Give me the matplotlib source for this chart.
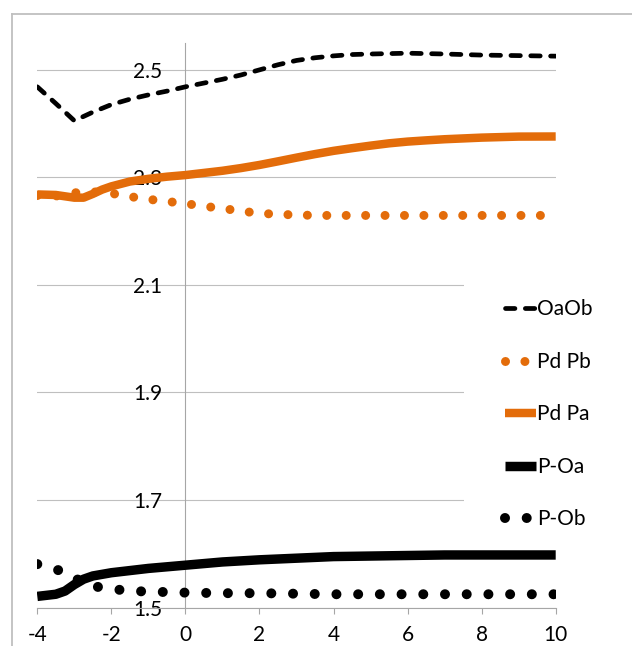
import matplotlib
matplotlib.use("Agg")
import matplotlib.pyplot as plt
from matplotlib.lines import Line2D
from matplotlib.patches import Rectangle

plt.rcParams['font.family'] = ['Lato', 'DejaVu Sans']

# ---- data ----
x_oaob = [-4, -3.5, -3, -2.5, -2, -1.5, -1, -0.5, 0, 0.5, 1, 1.5, 2, 2.5, 3, 3.5, 4, 4.5, 5, 6, 7, 8, 9, 10]
y_oaob = [2.468, 2.437, 2.405, 2.421, 2.435, 2.445, 2.453, 2.460, 2.468, 2.475, 2.482, 2.490, 2.4995,
          2.509, 2.517, 2.522, 2.5255, 2.528, 2.529, 2.5305, 2.529, 2.527, 2.526, 2.525]

x_pdpb = [-4, -3.5, -3, -2.5, -2, -1.5, -1, -0.5, 0, 0.5, 1, 1.5, 2, 2.5, 3, 3.5, 4, 5, 6, 7, 8, 9, 10]
y_pdpb = [2.266, 2.265, 2.271, 2.273, 2.270, 2.264, 2.259, 2.255, 2.251, 2.246, 2.242, 2.237, 2.233,
          2.231, 2.230, 2.229, 2.229, 2.229, 2.229, 2.229, 2.229, 2.229, 2.229]

x_pdpa = [-4, -3.5, -3, -2.75, -2.5, -2.25, -2, -1.5, -1, -0.5, 0, 0.5, 1, 1.5, 2, 2.5, 3, 3.5, 4,
          4.5, 5, 5.5, 6, 6.5, 7, 8, 9, 10]
y_pdpa = [2.268, 2.267, 2.262, 2.262, 2.269, 2.277, 2.283, 2.292, 2.297, 2.301, 2.304, 2.308, 2.312,
          2.317, 2.3228, 2.3295, 2.3364, 2.343, 2.349, 2.354, 2.3587, 2.363, 2.3662, 2.3685, 2.3706,
          2.3736, 2.3755, 2.3757]

x_poa = [-4, -3.5, -3.25, -3, -2.75, -2.5, -2, -1.5, -1, -0.5, 0, 1, 2, 3, 4, 5, 6, 7, 8, 9, 10]
y_poa = [1.521, 1.525, 1.531, 1.543, 1.553, 1.559, 1.565, 1.569, 1.573, 1.576, 1.579, 1.585, 1.589,
         1.592, 1.595, 1.596, 1.597, 1.598, 1.598, 1.598, 1.598]

x_pob = [-4, -3.5, -3, -2.5, -2, -1.5, -1, -0.5, 0, 1, 2, 3, 4, 5, 6, 7, 8, 9, 10]
y_pob = [1.581, 1.572, 1.555, 1.540, 1.535, 1.531, 1.530, 1.529, 1.528, 1.527, 1.527, 1.526, 1.525,
         1.525, 1.525, 1.525, 1.525, 1.525, 1.525]

x_ticks = [-4, -2, 0, 2, 4, 6, 8, 10]
y_ticks = [1.5, 1.7, 1.9, 2.1, 2.3, 2.5]
y_labels = ["1.5", "1.7", "1.9", "2.1", "2.3", "2.5"]

ORANGE = '#E36C0A'
GRID = '#BFBFBF'
AXIS = '#A6A6A6'

W, H = 632, 646
fig = plt.figure(figsize=(W / 100, H / 100), dpi=100)

# outer chart border (extends off the right/bottom edges)
fig.add_artist(Line2D([11.5 / W, 11.5 / W], [1 - 14 / H, -0.05], transform=fig.transFigure,
                      color=GRID, lw=1.3))
fig.add_artist(Line2D([11.5 / W, 1.05], [1 - 14 / H, 1 - 14 / H], transform=fig.transFigure,
                      color=GRID, lw=1.3))

left, right = 37.3 / W, 555.7 / W
bottom, top = 1 - 607.7 / H, 1 - 42.7 / H
ax = fig.add_axes([left, bottom, right - left, top - bottom])
ax.set_xlim(-4, 10)
ax.set_ylim(1.5, 2.55)

for yv in y_ticks:
    ax.axhline(yv, color=GRID, lw=0.8, zorder=0.5)

ax.plot(x_oaob, y_oaob, color='black', lw=3.4, dashes=(2.0, 2.2),
        dash_capstyle='round', label='OaOb', zorder=3)
ax.plot(x_pdpb, y_pdpb, color=ORANGE, lw=6.5, dashes=(0.001, 2.15),
        dash_capstyle='round', label='Pd Pb', zorder=3)
ax.plot(x_pdpa, y_pdpa, color=ORANGE, lw=6.1, solid_capstyle='butt', label='Pd Pa', zorder=3)
ax.plot(x_poa, y_poa, color='black', lw=6.8, solid_capstyle='butt', label='P-Oa', zorder=3)
ax.plot(x_pob, y_pob, color='black', lw=7.2, dashes=(0.001, 2.17),
        dash_capstyle='round', label='P-Ob', zorder=3)

for s in ['top', 'right']:
    ax.spines[s].set_visible(False)
ax.spines['left'].set_position(('data', 0))
ax.spines['left'].set_color(AXIS)
ax.spines['left'].set_linewidth(0.8)
ax.spines['bottom'].set_color(AXIS)
ax.spines['bottom'].set_linewidth(0.8)

ax.set_xticks(x_ticks)
ax.set_xticklabels([str(v) for v in x_ticks])
ax.set_yticks(y_ticks)
ax.set_yticklabels(y_labels)
ax.tick_params(axis='y', length=0, pad=16.8, labelsize=15, labelcolor='black')
ax.tick_params(axis='x', length=4.1, width=0.8, color=AXIS, direction='out', pad=8.5,
               labelsize=15, labelcolor='black')
ax.patch.set_alpha(0)

# white legend area (masks gridlines behind the legend)
ax.add_patch(Rectangle((464 / W, 1 - 538 / H), 140 / W, 264 / H, transform=fig.transFigure,
                       facecolor='white', edgecolor='none', zorder=2.5, clip_on=False))

leg = ax.legend(loc='upper left', bbox_to_anchor=(495 / W, 1 - 289 / H),
                bbox_transform=fig.transFigure, borderaxespad=0, borderpad=0.5,
                fontsize=15, frameon=True, fancybox=False, facecolor='white',
                edgecolor='none', framealpha=1, handlelength=1.45, handletextpad=0.05,
                labelspacing=1.56)
leg.set_zorder(5)

fig.savefig('out.png', dpi=100)
